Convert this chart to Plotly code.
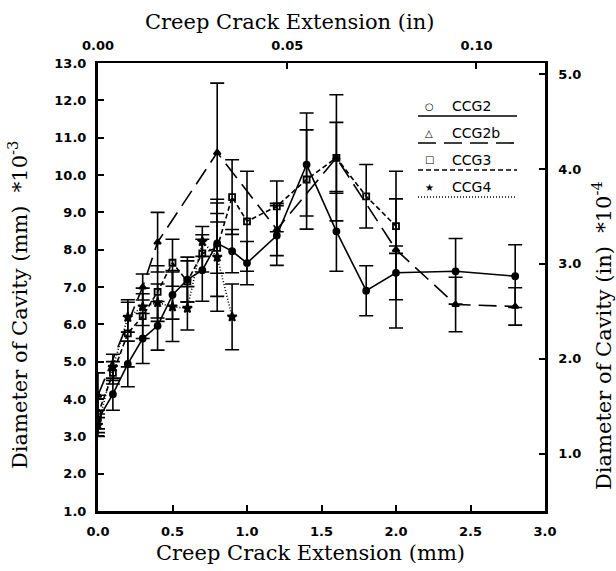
import plotly.graph_objects as go

# ---------------- data ----------------
x_ccg2 = [0.0, 0.1, 0.2, 0.3, 0.4, 0.5, 0.6, 0.7, 0.8, 0.9, 1.0, 1.2, 1.4, 1.6, 1.8, 2.0, 2.4, 2.8]
y_ccg2 = [3.45, 4.13, 4.94, 5.62, 5.96, 6.79, 7.2, 7.45, 8.17, 7.96, 7.64, 8.38, 10.28, 8.49, 6.9, 7.38, 7.42, 7.29]
e_ccg2 = [0.25, 0.43, 0.61, 0.67, 0.65, 0.65, 0.6, 0.83, 0.8, 0.58, 0.58, 0.8, 1.38, 1.07, 0.67, 0.72, 0.88, 0.84]

x_ccg2b = [0.0, 0.3, 0.4, 0.8, 1.2, 1.6, 2.0, 2.4, 2.8]
y_ccg2b = [4.1, 7.0, 8.2, 10.6, 8.54, 10.46, 8.0, 6.53, 6.48]
e_ccg2b = [0.6, 0.35, 0.8, 1.86, 0.7, 0.95, 2.1, 0.73, 0.5]

x_ccg3 = [0.0, 0.1, 0.2, 0.3, 0.4, 0.5, 0.6, 0.7, 0.8, 0.9, 1.0, 1.2, 1.4, 1.6, 1.8, 2.0]
y_ccg3 = [3.6, 4.7, 5.76, 6.22, 6.87, 7.65, 7.15, 7.9, 8.05, 9.41, 8.76, 9.16, 9.88, 10.46, 9.43, 8.63]
e_ccg3 = [0.5, 0.3, 0.9, 0.6, 0.7, 0.63, 0.55, 0.5, 1.3, 1.0, 1.34, 0.68, 1.33, 1.69, 0.85, 0.73]

x_ccg4 = [0.0, 0.1, 0.2, 0.3, 0.4, 0.5, 0.6, 0.7, 0.8, 0.9]
y_ccg4 = [3.3, 4.85, 6.19, 6.47, 6.58, 6.47, 6.43, 8.22, 7.8, 6.2]
e_ccg4 = [0.3, 0.35, 0.4, 0.5, 0.5, 0.93, 0.58, 0.4, 1.45, 0.88]

series_names = ["CCG2", "CCG2b", "CCG3", "CCG4"]

x_ticks_mm = [0.0, 0.5, 1.0, 1.5, 2.0, 2.5, 3.0]
x_ticks_in = [0.0, 0.05, 0.10]
y_ticks_mm = [1, 2, 3, 4, 5, 6, 7, 8, 9, 10, 11, 12, 13]
y_ticks_in = [1, 2, 3, 4, 5]

MM_PER_IN = 25.4

# ---------------- styles ----------------
styles = {
    "CCG2": dict(dash="solid", symbol="circle", size=6),
    "CCG2b": dict(dash="18px,8px", symbol="triangle-up", size=6),
    "CCG3": dict(dash="5px,3px", symbol="square-open", size=6),
    "CCG4": dict(dash="1px,2px", symbol="star", size=7),
}
data = {
    "CCG2": (x_ccg2, y_ccg2, e_ccg2),
    "CCG2b": (x_ccg2b, y_ccg2b, e_ccg2b),
    "CCG3": (x_ccg3, y_ccg3, e_ccg3),
    "CCG4": (x_ccg4, y_ccg4, e_ccg4),
}

fig = go.Figure()
for name in series_names:
    xs, ys, es = data[name]
    st = styles[name]
    fig.add_trace(go.Scatter(
        x=xs, y=ys, name=name, mode="lines+markers",
        line=dict(color="black", width=1.6, dash=st["dash"]),
        marker=dict(symbol=st["symbol"], size=st["size"], color="black",
                    line=dict(color="black", width=1.8)),
        error_y=dict(type="data", array=es, visible=True, color="black",
                     thickness=1.6, width=7),
        showlegend=False,
    ))

# invisible trace carrying the secondary (inch) axes
fig.add_trace(go.Scatter(
    x=[v / MM_PER_IN for v in x_ccg2], y=[v / 2.54 for v in y_ccg2],
    xaxis="x2", yaxis="y2", mode="markers", marker=dict(opacity=0),
    hoverinfo="skip", showlegend=False,
))

tick_font = dict(family="DejaVu Sans", size=13, color="black", weight="bold")
title_font = dict(family="DejaVu Serif", size=21, color="black")

axis_common = dict(showgrid=False, zeroline=False, showline=True, linecolor="black",
                   ticks="inside", ticklen=6, tickwidth=1.5, tickcolor="black",
                   tickfont=tick_font)

fig.update_layout(
    width=616, height=571,
    margin=dict(l=98, r=71, t=63, b=60),
    paper_bgcolor="white", plot_bgcolor="white",
    xaxis=dict(range=[0, 3], tickvals=x_ticks_mm,
               ticktext=[f"{v:.1f}" for v in x_ticks_mm], linewidth=3,
               ticklabelstandoff=6, **axis_common),
    yaxis=dict(range=[1, 13], tickvals=y_ticks_mm,
               ticktext=[f"{v:.1f}" for v in y_ticks_mm], linewidth=3,
               ticklabelstandoff=6, **axis_common),
    xaxis2=dict(overlaying="x", side="top", anchor="y",
                range=[0, 3 / MM_PER_IN], tickvals=x_ticks_in,
                ticktext=[f"{v:.2f}" for v in x_ticks_in], linewidth=2,
                ticklabelstandoff=6, **axis_common),
    yaxis2=dict(overlaying="y", side="right", anchor="x",
                range=[1 / 2.54, 13 / 2.54], tickvals=y_ticks_in,
                ticktext=[f"{v:.1f}" for v in y_ticks_in], linewidth=2.5,
                ticklabelstandoff=8, **axis_common),
)

# ---------------- titles ----------------
PL, PR, PT, PB = 98, 545, 63, 511


def px_to_paper(px, py):
    return (px - PL) / (PR - PL), (PB - py) / (PB - PT)


def add_text(text, px, py, font, angle=0, xanchor="center", yanchor="middle"):
    x, y = px_to_paper(px, py)
    fig.add_annotation(text=text, x=x, y=y, xref="paper", yref="paper",
                       showarrow=False, font=font, textangle=angle,
                       xanchor=xanchor, yanchor=yanchor)


add_text("Creep Crack Extension (mm)", 310, 553, title_font)
add_text("Creep Crack Extension (in)", 289, 22, title_font)
add_text("Diameter of Cavity (mm)  *10<sup>-3</sup>", 18, 305, title_font, angle=-90)
add_text("Diameter of Cavity (in)  *10<sup>-4</sup>", 602, 336, title_font, angle=-90)

# ---------------- legend (drawn to match the reference layout) ----------------
legend_font = dict(family="DejaVu Sans", size=14, color="black")
legend_symbols = {"CCG2": "○", "CCG2b": "△", "CCG3": "□", "CCG4": "★"}
row_text_y = [106, 133, 160, 187]
for i, name in enumerate(series_names):
    ty = row_text_y[i]
    add_text(legend_symbols[name], 429, ty, dict(family="DejaVu Sans", size=10, color="black"))
    add_text(name, 450, ty, legend_font, xanchor="left")
    x0, y0 = px_to_paper(418, ty + 10)
    x1, _ = px_to_paper(517, ty + 10)
    fig.add_shape(type="line", xref="paper", yref="paper", x0=x0, x1=x1, y0=y0, y1=y0,
                  line=dict(color="black", width=1.6, dash=styles[name]["dash"]))

fig.write_html("out.html")
